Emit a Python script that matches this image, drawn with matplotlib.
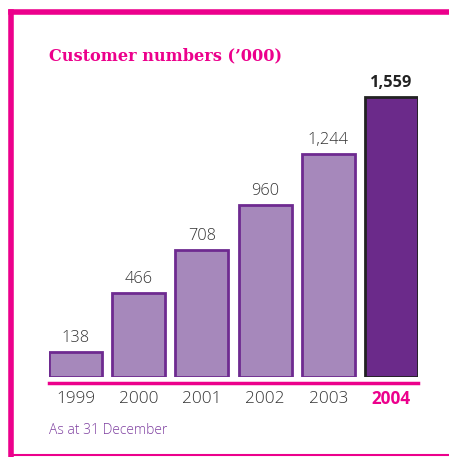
import matplotlib.pyplot as plt
from matplotlib.lines import Line2D

years = ['1999', '2000', '2001', '2002', '2003', '2004']
customers = [138, 466, 708, 960, 1244, 1559]
value_labels = ['138', '466', '708', '960', '1,244', '1,559']

PINK = '#ec008c'
LIGHT = '#a688bb'
LIGHT_EDGE = '#6e2a90'
DARK = '#6b2a8a'
W, H = 449, 457

fig = plt.figure(figsize=(W / 100, H / 100), dpi=100, facecolor='white')

# axes placed in pixel terms: bars sit on y=377 (from top), 1559 reaches y=97
px_per_unit = (377 - 97) / 1559
ymax = 1800
ax = fig.add_axes([49 / W, (H - 377) / H, (418 - 49) / W, ymax * px_per_unit / H])
ax.set_xlim(-0.42, 5.42)
ax.set_ylim(0, ymax)
ax.axis('off')

for i, (v, lab) in enumerate(zip(customers, value_labels)):
    last = i == len(years) - 1
    ax.bar(i, v, width=0.84, color=DARK if last else LIGHT,
           edgecolor='#222222' if last else LIGHT_EDGE, linewidth=2)
    ax.text(i, v + 33, lab, ha='center', va='bottom', fontsize=11.8,
            family='Open Sans', color='#222222' if last else '#333333',
            fontweight='bold' if last else 300)
    ax.text(i, -125, years[i], ha='center', va='center', fontsize=12.3,
            family='Open Sans', color=PINK if last else '#333333',
            fontweight='bold' if last else 300)

# pink baseline under the bars
fig.add_artist(Line2D([49 / W, 418 / W], [(H - 383) / H] * 2, color=PINK, lw=2.5))

# frame: thick top and left, thin bottom
fig.add_artist(Line2D([10.5 / W, 1], [(H - 11.5) / H] * 2, color=PINK, lw=4))
fig.add_artist(Line2D([10.5 / W] * 2, [(H - 11.5) / H, (H - 455) / H], color=PINK, lw=4))
fig.add_artist(Line2D([10.5 / W, 1], [(H - 455) / H] * 2, color=PINK, lw=1.5))

fig.text(49 / W, 1 - 56 / H, "Customer numbers (\u2019000)", ha='left', va='center',
         fontsize=11.6, family='DejaVu Serif', fontweight='bold', color=PINK)
fig.text(49 / W, 1 - 430 / H, 'As at 31 December', ha='left', va='center',
         fontsize=10, family='Open Sans', fontweight=300, color='#7e3fa0')

fig.savefig('out.png', dpi=100, facecolor='white')
